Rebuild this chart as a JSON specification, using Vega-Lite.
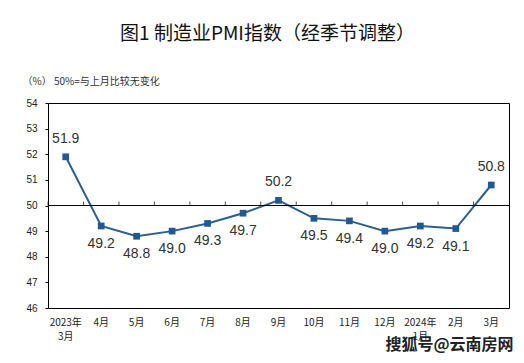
{
  "$schema": "https://vega.github.io/schema/vega-lite/v6.json",
  "width": 461,
  "height": 205,
  "autosize": "none",
  "padding": {"left": 48, "top": 103, "right": 15, "bottom": 55},
  "background": "white",
  "config": {
    "view": {"stroke": "#000", "strokeWidth": 1},
    "font": "Liberation Sans"
  },
  "title": {"text": "图1  制造业PMI指数（经季节调整）", "font": "Noto Sans CJK SC", "fontSize": 19, "fontWeight": "normal", "color": "#111", "anchor": "middle", "dx": -11, "offset": 32},
  "data": {"values": [
    {"month": "2023年 3月", "pmi": 51.9},
    {"month": "4月", "pmi": 49.2},
    {"month": "5月", "pmi": 48.8},
    {"month": "6月", "pmi": 49.0},
    {"month": "7月", "pmi": 49.3},
    {"month": "8月", "pmi": 49.7},
    {"month": "9月", "pmi": 50.2},
    {"month": "10月", "pmi": 49.5},
    {"month": "11月", "pmi": 49.4},
    {"month": "12月", "pmi": 49.0},
    {"month": "2024年 1月", "pmi": 49.2},
    {"month": "2月", "pmi": 49.1},
    {"month": "3月", "pmi": 50.8}
  ]},
  "layer": [
    {
      "mark": {"type": "line", "color": "#2a5f8f", "strokeWidth": 2},
      "encoding": {
        "x": {"field": "month", "type": "ordinal", "sort": null, "scale": {"paddingInner": 0, "paddingOuter": 0},
          "axis": {"title": "搜狐号@云南房网", "titleX": 337, "titleY": 36, "titleAlign": "left", "titleBaseline": "middle", "titleFont": "Noto Sans CJK SC", "titleFontSize": 16, "titleFontWeight": "bold", "titleColor": "#222", "labelExpr": "split(datum.label, ' ')", "labelAngle": 0, "ticks": false, "domain": false, "labelFont": "Noto Sans CJK SC", "labelFontSize": 10, "labelColor": "#222", "labelPadding": 9, "labelLineHeight": 14}},
        "y": {"field": "pmi", "type": "quantitative", "scale": {"domain": [46, 54], "nice": false, "zero": false},
          "axis": {"title": "（%）  50%=与上月比较无变化", "titleAngle": 0, "titleX": -26, "titleY": -22, "titleAlign": "left", "titleBaseline": "middle", "titleFont": "Noto Sans CJK SC", "titleFontSize": 10, "titleFontWeight": "normal", "titleColor": "#333", "tickCount": {"expr": "8"}, "labelOverlap": false, "grid": false, "domain": false, "tickSize": 3, "tickColor": "#000", "labelFont": "Liberation Sans", "labelFontSize": 10, "labelColor": "#222", "labelPadding": 8}}
      }
    },
    {
      "mark": {"type": "rule", "color": "#000", "strokeWidth": 1},
      "encoding": {
        "y": {"datum": 50, "type": "quantitative"}
      }
    },
    {
      "mark": {"type": "tick", "orient": "vertical", "color": "#000", "thickness": 1, "size": 4, "yOffset": -2},
      "encoding": {
        "x": {"field": "month", "type": "ordinal", "sort": null, "bandPosition": 0},
        "y": {"datum": 50, "type": "quantitative"}
      }
    },
    {
      "mark": {"type": "square", "size": 45, "color": "#1f5a96", "opacity": 1},
      "encoding": {
        "x": {"field": "month", "type": "ordinal", "sort": null},
        "y": {"field": "pmi", "type": "quantitative"}
      }
    },
    {
      "transform": [{"filter": "datum.pmi > 50"}],
      "mark": {"type": "text", "dy": -18, "fontSize": 14, "color": "#333", "font": "Liberation Sans"},
      "encoding": {
        "x": {"field": "month", "type": "ordinal", "sort": null},
        "y": {"field": "pmi", "type": "quantitative"},
        "text": {"field": "pmi", "type": "quantitative", "format": ".1f"}
      }
    },
    {
      "transform": [{"filter": "datum.pmi <= 50"}],
      "mark": {"type": "text", "dy": 18, "fontSize": 14, "color": "#333", "font": "Liberation Sans"},
      "encoding": {
        "x": {"field": "month", "type": "ordinal", "sort": null},
        "y": {"field": "pmi", "type": "quantitative"},
        "text": {"field": "pmi", "type": "quantitative", "format": ".1f"}
      }
    }
  ]
}
